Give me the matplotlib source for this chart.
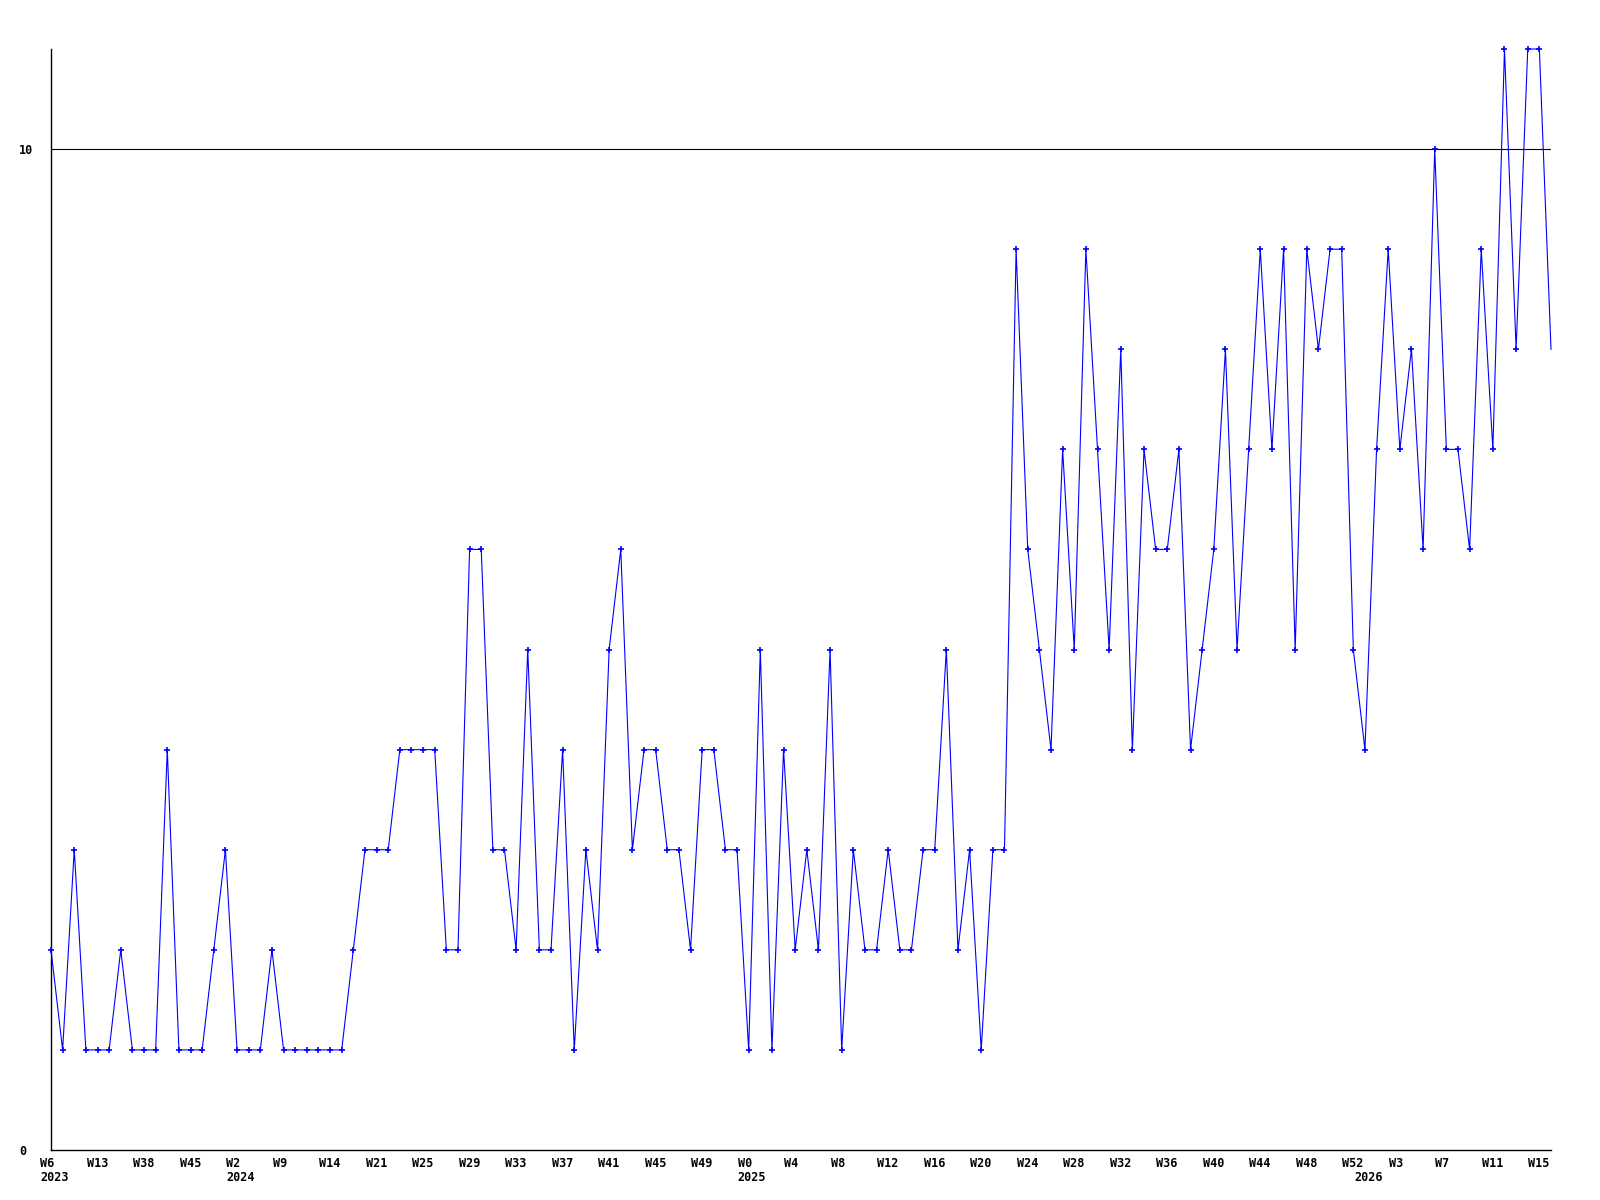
import matplotlib
matplotlib.use("Agg")
import matplotlib.pyplot as plt
from matplotlib.transforms import ScaledTranslation, blended_transform_factory

# weekly values
values = [
    2, 1, 3, 1, 1, 1, 2, 1, 1, 1, 4, 1, 1, 1, 2, 3, 1, 1, 1, 2,
    1, 1, 1, 1, 1, 1, 2, 3, 3, 3, 4, 4, 4, 4, 2, 2, 6, 6, 3, 3,
    2, 5, 2, 2, 4, 1, 3, 2, 5, 6, 3, 4, 4, 3, 3, 2, 4, 4, 3, 3,
    1, 5, 1, 4, 2, 3, 2, 5, 1, 3, 2, 2, 3, 2, 2, 3, 3, 5, 2, 3,
    1, 3, 3, 9, 6, 5, 4, 7, 5, 9, 7, 5, 8, 4, 7, 6, 6, 7, 4, 5,
    6, 8, 5, 7, 9, 7, 9, 5, 9, 8, 9, 9, 5, 4, 7, 9, 7, 8, 6, 10,
    7, 7, 6, 9, 7, 11, 8, 11, 11, 8,
]

week_labels = ["W6", "W13", "W38", "W45", "W2", "W9", "W14", "W21", "W25",
               "W29", "W33", "W37", "W41", "W45", "W49", "W0", "W4", "W8",
               "W12", "W16", "W20", "W24", "W28", "W32", "W36", "W40", "W44",
               "W48", "W52", "W3", "W7", "W11", "W15"]
label_step = 4

years = ["2023", "2024", "2025", "2026"]
year_pos = [0, 16, 60, 113]

ytick_vals = [0, 10]
ref_line = 10

font = dict(family="DejaVu Sans Mono", fontweight="bold", fontsize=8.5)

fig = plt.figure(figsize=(16, 12), dpi=100)
ax = fig.add_axes([51 / 1600, 1 - 1150 / 1200, 1500 / 1600, 1101 / 1200])

x = list(range(len(values)))
# last point sits on the right edge and has no marker in the original
ax.plot(x, values, color="#0000ff", linewidth=0.8, marker="+",
        markersize=4, markeredgewidth=1.2, markevery=slice(0, len(values) - 1),
        clip_on=False, zorder=3)
ax.axhline(ref_line, color="black", linewidth=0.8, zorder=2)

ax.set_xlim(0, len(values) - 1)
ax.set_ylim(0, 11)

for s in ["top", "right"]:
    ax.spines[s].set_visible(False)
for s in ["left", "bottom"]:
    ax.spines[s].set_color("black")
    ax.spines[s].set_linewidth(1.0)

ax.set_yticks(ytick_vals)
ax.set_yticklabels([str(v) for v in ytick_vals], **font)
ax.tick_params(axis="y", length=0, pad=23)
for lab in ax.get_yticklabels():
    lab.set_horizontalalignment("left")

ax.set_xticks(list(range(0, len(values), label_step))[:len(week_labels)])
ax.set_xticklabels(week_labels, **font)
ax.tick_params(axis="x", length=0, pad=5)
shift = ScaledTranslation(-11 / 100, 0, fig.dpi_scale_trans)
for lab in ax.get_xticklabels():
    lab.set_horizontalalignment("left")
    lab.set_transform(lab.get_transform() + shift)

trans = blended_transform_factory(ax.transData, ax.transAxes)
for yr, pos in zip(years, year_pos):
    ax.text(pos, 0, yr, transform=trans + ScaledTranslation(-11 / 100, -21 / 100, fig.dpi_scale_trans),
            ha="left", va="top", **font)

fig.savefig("out.png", dpi=100, facecolor="white")
